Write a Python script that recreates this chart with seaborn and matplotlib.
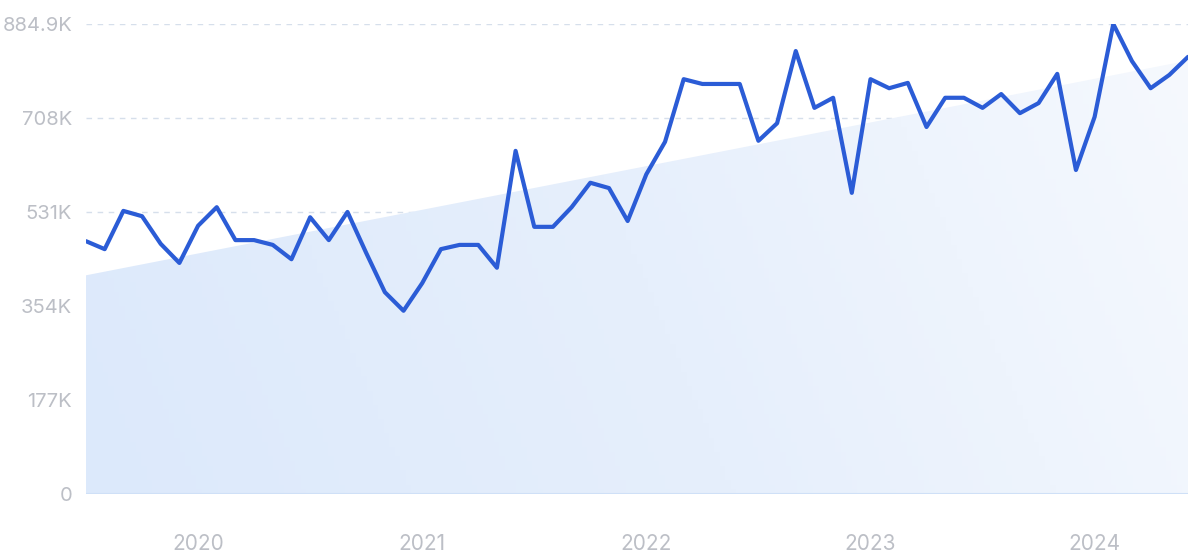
import numpy as np
import pandas as pd
import seaborn as sns
import matplotlib.pyplot as plt
from matplotlib.colors import LinearSegmentedColormap

sns.set_theme(style="white")
plt.rcParams['font.family'] = ['Inter', 'DejaVu Sans']

# monthly values, Jul 2019 - Jun 2024 (thousands)
months = pd.date_range("2019-07-01", "2024-06-01", freq="MS")
values = [476, 461, 533, 523, 471, 435, 505, 540, 478, 478, 469, 442,
          521, 478, 531, 454, 380, 345, 397, 461, 469, 469, 426, 646,
          503, 503, 540, 586, 576, 514, 602, 663, 781, 772, 772, 772,
          665, 698, 834, 727, 746, 567, 781, 764, 774, 691, 746, 746,
          727, 753, 717, 736, 791, 610, 710, 884.9, 815, 764, 789, 823]
ytick_vals = [0, 177, 354, 531, 708, 884.9]
ytick_labels = ["0", "177K", "354K", "531K", "708K", "884.9K"]
xtick_years = ["2020", "2021", "2022", "2023", "2024"]

df = pd.DataFrame({"month": months, "value": values})
df["t"] = np.arange(len(df))

fig = plt.figure(figsize=(12, 5.58), dpi=100)
ax = fig.add_axes([86/1200, 1-494/558, (1188-86)/1200, (494-24)/558])

# trend area with soft gradient
slope, icpt = np.polyfit(df["t"], df["value"], 1)
trend = icpt + slope * df["t"]
poly = ax.fill_between(df["t"], 0, trend, color="none", lw=0)
cmap = LinearSegmentedColormap.from_list("g", ["#dce9fb", "#e6effc", "#f6f9fe"])
gx, gy = np.meshgrid(np.linspace(0, 1, 200), np.linspace(0, 1, 100))
grad = (gx * 0.85 + (1 - gy) * 0.15)
img = ax.imshow(grad, cmap=cmap, aspect="auto", origin="upper",
                extent=[0, len(df) - 1, 0, 884.9], zorder=1)
img.set_clip_path(poly.get_paths()[0], transform=ax.transData)

# grid lines
for v in ytick_vals[1:]:
    ax.axhline(v, color="#d6dfeb", lw=1, ls=(0, (4, 4)), zorder=0.5)
ax.axhline(0, color="#cfe0f7", lw=1.5, zorder=2)

sns.lineplot(data=df, x="t", y="value", ax=ax, color="#2b5cd6", lw=3, zorder=3)

ax.set_xlim(0, len(df) - 1)
ax.set_ylim(0, 884.9)
ax.set_yticks(ytick_vals)
ax.set_yticklabels(ytick_labels)
jan_idx = [i for i, m in enumerate(months) if m.month == 1]
ax.set_xticks(jan_idx)
ax.set_xticklabels(xtick_years)
ax.tick_params(axis="y", length=0, pad=10, labelsize=14.5, labelcolor="#bcbfc6")
ax.tick_params(axis="x", length=0, pad=29, labelsize=15, labelcolor="#bcbfc6")
ax.set_xlabel("")
ax.set_ylabel("")
for s in ax.spines.values():
    s.set_visible(False)

fig.savefig("out.png", dpi=100)
